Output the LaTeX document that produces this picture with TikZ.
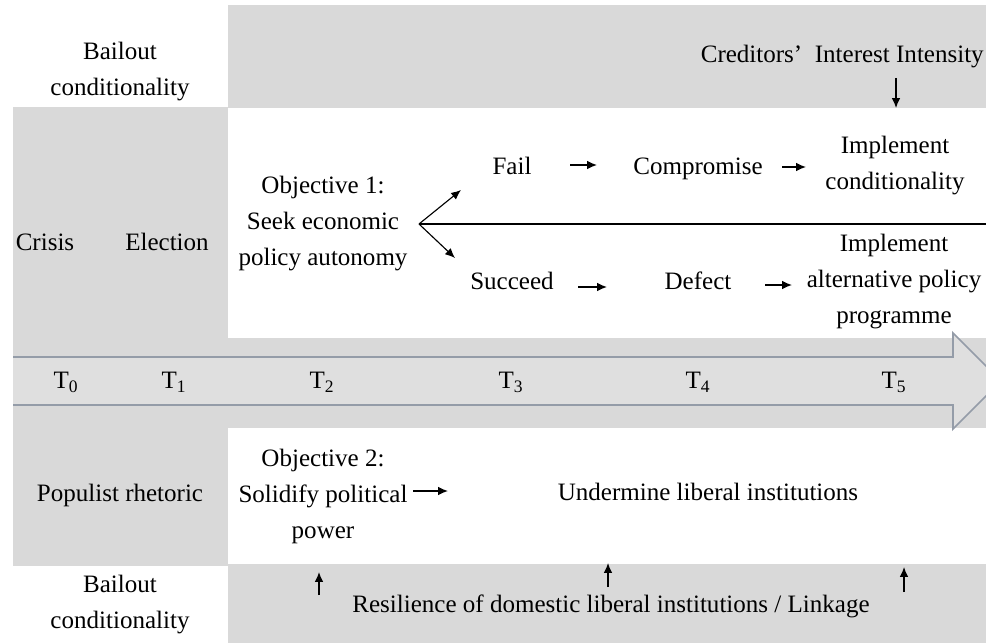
\documentclass[tikz,border=0pt]{standalone}
\usepackage{fontspec}
\setmainfont{Liberation Serif}
\usetikzlibrary{arrows.meta,calc}
\definecolor{BandGray}{RGB}{217,217,217}
\definecolor{ArrowEdge}{RGB}{148,156,168}
\definecolor{ArrowFill}{RGB}{223,223,223}

\begin{document}
\begin{tikzpicture}[x=0.025cm,y=-0.025cm,
  lbl/.style={inner sep=0pt,align=center,font=\fontsize{17.8}{25.6}\selectfont},
  one/.style={lbl,text height=12pt,text depth=1pt},
  arr/.style={-{Latex[length=7pt,width=6pt]},line width=0.8pt}]
  \useasboundingbox (0,0) rectangle (986,643);
  % grey bands
  \fill[BandGray] (228,5) rectangle (986,108);
  \fill[BandGray] (13,107) rectangle (228,338);
  \fill[BandGray] (13,338) rectangle (986,428);
  \fill[BandGray] (13,428) rectangle (228,566);
  \fill[BandGray] (228,564) rectangle (986,643);
  % time arrow
  \begin{scope}
    \clip (0,0) rectangle (986,643);
    \draw[ArrowEdge,fill=ArrowFill,line width=1.2pt] (13,357) -- (953,357) -- (953,333) -- (1001,381) -- (953,429) -- (953,405) -- (13,405);
  \end{scope}
  \node[lbl] (bail1) at (120,72) {Bailout\\conditionality};
  \node[lbl,anchor=base east] (credit) at (984,63) {Creditors'\ \ Interest Intensity};
  \node[one] (crisis) at (45,243) {Crisis};
  \node[one] (election) at (167,243) {Election};
  \node[lbl] (obj1) at (323,224) {Objective 1:\\Seek economic\\policy autonomy};
  \node[one] (fail) at (512,167) {Fail};
  \node[one] (comp) at (698,167) {Compromise};
  \node[lbl] (impl1) at (895,166) {Implement\\conditionality};
  \node[one] (succ) at (512,282) {Succeed};
  \node[one] (defect) at (698,282) {Defect};
  \node[lbl] (impl2) at (894,282) {Implement\\alternative policy\\programme};
  \node[one] (t0) at (66,381) {T\textsubscript{0}};
  \node[one] (t1) at (174,381) {T\textsubscript{1}};
  \node[one] (t2) at (322,381) {T\textsubscript{2}};
  \node[one] (t3) at (511,381) {T\textsubscript{3}};
  \node[one] (t4) at (698,381) {T\textsubscript{4}};
  \node[one] (t5) at (894,381) {T\textsubscript{5}};
  \node[one] (pop) at (120,494) {Populist rhetoric};
  \node[lbl] (obj2) at (323,496) {Objective 2:\\Solidify political\\power};
  \node[one] (under) at (708,493) {Undermine liberal institutions};
  \node[lbl] (bail2) at (120,605) {Bailout\\conditionality};
  \node[one] (resil) at (611,605) {Resilience of domestic liberal institutions / Linkage};
  % branching of objective 1
  \coordinate (branch) at ($(obj1)+(96,0)$);
  \coordinate (lineend) at (990,224);
  \draw[line width=1.4pt] (branch) -- (lineend);
  \draw[arr] (branch) -- ($(fail)+(-51,23)$);
  \draw[arr] (branch) -- ($(succ)+(-57,-24)$);
  \draw[arr] ($(fail)+(58,-2)$) -- ($(comp)+(-101,-2)$);
  \draw[arr] ($(comp)+(84,0)$) -- ($(impl1)+(-89,1)$);
  \draw[arr] ($(succ)+(66,5)$) -- ($(defect)+(-91,5)$);
  \draw[arr] ($(defect)+(67,3)$) -- ($(impl2)+(-102,3)$);
  \draw[arr] ($(impl1)+(1,-88)$) -- ($(impl1)+(1,-58)$);
  % objective 2
  \draw[arr] ($(obj2)+(90,-5)$) -- ($(under)+(-260,-2)$);
  \draw[arr] ($(resil)+(-292,-10)$) -- ($(resil)+(-292,-33)$);
  \draw[arr] ($(resil)+(-3,-18)$) -- ($(resil)+(-3,-42)$);
  \draw[arr] ($(resil)+(293,-13)$) -- ($(resil)+(293,-38)$);
\end{tikzpicture}
\end{document}
